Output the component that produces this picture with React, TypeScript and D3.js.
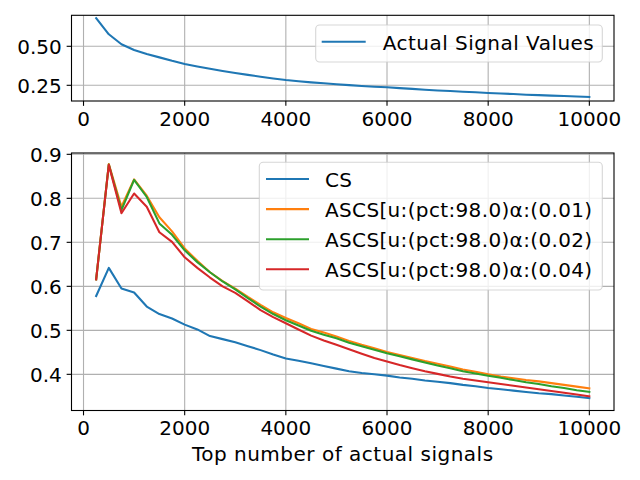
import React from "react";
import * as d3 from "d3";

const xValues = [250,500,750,1000,1250,1500,1750,2000,2250,2500,2750,3000,3250,3500,3750,4000,4250,4500,4750,5000,5250,5500,5750,6000,6250,6500,6750,7000,7250,7500,7750,8000,8250,8500,8750,9000,9250,9500,9750,10000];

const actualSignal = [0.680,0.577,0.513,0.476,0.450,0.429,0.407,0.387,0.371,0.356,0.342,0.329,0.317,0.305,0.294,0.284,0.276,0.269,0.263,0.257,0.251,0.246,0.241,0.237,0.232,0.227,0.222,0.217,0.213,0.209,0.205,0.201,0.197,0.194,0.190,0.187,0.184,0.181,0.178,0.175];

const csValues = [0.578,0.642,0.595,0.586,0.554,0.537,0.527,0.513,0.502,0.487,0.480,0.473,0.464,0.455,0.445,0.436,0.431,0.425,0.419,0.413,0.407,0.403,0.400,0.397,0.393,0.390,0.386,0.383,0.380,0.376,0.373,0.369,0.366,0.363,0.360,0.357,0.355,0.352,0.349,0.346];

const ascs001 = [0.616,0.878,0.781,0.843,0.806,0.757,0.725,0.686,0.658,0.632,0.612,0.595,0.576,0.558,0.541,0.528,0.516,0.503,0.495,0.486,0.476,0.467,0.459,0.451,0.444,0.437,0.430,0.424,0.418,0.411,0.406,0.400,0.395,0.391,0.387,0.384,0.380,0.376,0.372,0.368];

const ascs002 = [0.616,0.877,0.773,0.842,0.803,0.743,0.717,0.682,0.655,0.632,0.611,0.593,0.573,0.554,0.537,0.523,0.511,0.499,0.490,0.482,0.472,0.464,0.456,0.448,0.441,0.434,0.427,0.420,0.414,0.407,0.402,0.397,0.392,0.387,0.382,0.378,0.373,0.369,0.364,0.360];

const ascs004 = [0.616,0.876,0.766,0.811,0.781,0.723,0.701,0.666,0.642,0.620,0.600,0.585,0.566,0.546,0.530,0.516,0.502,0.488,0.477,0.467,0.457,0.447,0.437,0.429,0.421,0.414,0.407,0.401,0.395,0.390,0.386,0.382,0.378,0.374,0.370,0.366,0.362,0.358,0.354,0.350];

const xTicks = [0, 2000, 4000, 6000, 8000, 10000];
const topYTicks = [0.25, 0.5];
const bottomYTicks = [0.4, 0.5, 0.6, 0.7, 0.8, 0.9];

const topSeriesLabel = "Actual Signal Values";
const bottomSeriesLabels = [
  "CS",
  "ASCS[u:(pct:98.0)α:(0.01)",
  "ASCS[u:(pct:98.0)α:(0.02)",
  "ASCS[u:(pct:98.0)α:(0.04)",
];
const xLabel = "Top number of actual signals";

const colors = ["#1f77b4", "#ff7f0e", "#2ca02c", "#d62728"];
const FONT = "'DejaVu Sans', sans-serif";
const FS = 20;
const LW = 2.08;

type PanelProps = {
  top: number;
  bottom: number;
  yDomain: [number, number];
  yTicks: number[];
  yFmt: (v: number) => string;
  series: number[][];
  seriesColors: string[];
};

const left = 71.5;
const right = 614;
const xScale = d3.scaleLinear().domain([-237.5, 10487.5]).range([left, right]);

function Panel({ top, bottom, yDomain, yTicks, yFmt, series, seriesColors }: PanelProps) {
  const yScale = d3.scaleLinear().domain(yDomain).range([bottom, top]);
  const line = d3
    .line<number>()
    .x((_, i) => xScale(xValues[i]))
    .y((d) => yScale(d));
  const tickLen = 4.86;
  return (
    <g>
      <defs>
        <clipPath id={`clip-${top}`}>
          <rect x={left} y={top} width={right - left} height={bottom - top} />
        </clipPath>
      </defs>
      {xTicks.map((t) => (
        <line key={"gx" + t} x1={xScale(t)} x2={xScale(t)} y1={top} y2={bottom} stroke="#b0b0b0" strokeWidth={1.1} />
      ))}
      {yTicks.map((t) => (
        <line key={"gy" + t} x1={left} x2={right} y1={yScale(t)} y2={yScale(t)} stroke="#b0b0b0" strokeWidth={1.1} />
      ))}
      <g clipPath={`url(#clip-${top})`}>
        {series.map((s, i) => (
          <path key={i} d={line(s) || ""} fill="none" stroke={seriesColors[i]} strokeWidth={LW} strokeLinejoin="round" strokeLinecap="square" />
        ))}
      </g>
      <rect x={left} y={top} width={right - left} height={bottom - top} fill="none" stroke="#000" strokeWidth={1.1} />
      {xTicks.map((t) => (
        <g key={"tx" + t}>
          <line x1={xScale(t)} x2={xScale(t)} y1={bottom} y2={bottom + tickLen} stroke="#000" strokeWidth={1.1} />
          <text x={xScale(t)} y={bottom + 24.5} textAnchor="middle" fontFamily={FONT} fontSize={FS} fill="#000">
            {t}
          </text>
        </g>
      ))}
      {yTicks.map((t) => (
        <g key={"ty" + t}>
          <line x1={left - tickLen} x2={left} y1={yScale(t)} y2={yScale(t)} stroke="#000" strokeWidth={1.1} />
          <text x={left - 9.7} y={yScale(t) + 7.5} textAnchor="end" fontFamily={FONT} fontSize={FS} fill="#000">
            {yFmt(t)}
          </text>
        </g>
      ))}
    </g>
  );
}

export default function App() {
  return (
    <svg
      width={640}
      height={480}
      viewBox="0 0 640 480"
      style={{ position: "absolute", left: 0, top: 0, background: "#fff" }}
    >
      <rect x={0} y={0} width={640} height={480} fill="#fff" />
      <Panel
        top={15.3}
        bottom={101}
        yDomain={[0.1494, 0.6987]}
        yTicks={topYTicks}
        yFmt={(v) => d3.format(".2f")(v)}
        series={[actualSignal]}
        seriesColors={[colors[0]]}
      />
      {/* top legend */}
      <g>
        <rect x={315.7} y={25} width={286.6} height={37} rx={4} fill="#fff" fillOpacity={0.8} stroke="#cccccc" strokeOpacity={0.8} strokeWidth={1.1} />
        <line x1={321.7} x2={365.7} y1={41.7} y2={41.7} stroke={colors[0]} strokeWidth={LW} />
        <text x={382.7} y={49.5} fontFamily={FONT} fontSize={FS} fill="#000" letterSpacing={0.47}>
          {topSeriesLabel}
        </text>
      </g>
      <Panel
        top={153}
        bottom={410.5}
        yDomain={[0.3178, 0.903]}
        yTicks={bottomYTicks}
        yFmt={(v) => d3.format(".1f")(v)}
        series={[csValues, ascs001, ascs002, ascs004]}
        seriesColors={colors}
      />
      {/* bottom legend */}
      <g>
        <rect x={259.3} y={162.3} width={343} height={127.7} rx={4} fill="#fff" fillOpacity={0.8} stroke="#cccccc" strokeOpacity={0.8} strokeWidth={1.1} />
        {bottomSeriesLabels.map((lab, i) => (
          <g key={lab}>
            <line x1={266} x2={309} y1={179 + i * 30.1} y2={179 + i * 30.1} stroke={colors[i]} strokeWidth={LW} />
            <text x={325} y={186.5 + i * 30.1} fontFamily={FONT} fontSize={FS} fill="#000" letterSpacing={0.35}>
              {lab}
            </text>
          </g>
        ))}
      </g>
      <text x={(left + right) / 2} y={461} textAnchor="middle" fontFamily={FONT} fontSize={FS} fill="#000" letterSpacing={0.5}>
        {xLabel}
      </text>
    </svg>
  );
}
